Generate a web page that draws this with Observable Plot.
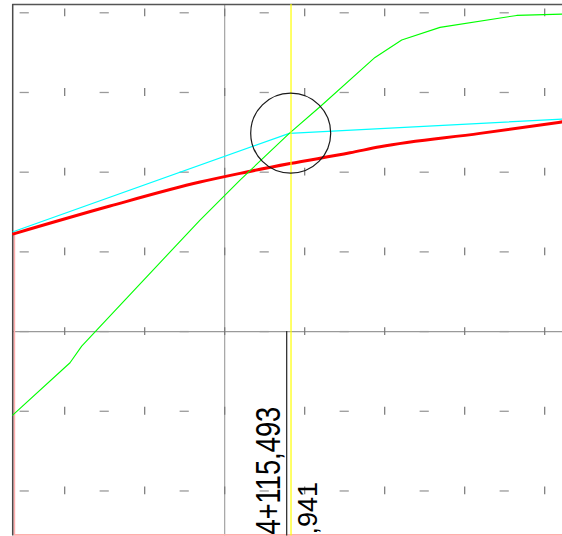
<!DOCTYPE html>
<html>
<head>
<meta charset="utf-8">
<script src="https://cdn.jsdelivr.net/npm/d3@7"></script>
<script src="https://cdn.jsdelivr.net/npm/@observablehq/plot@0.6"></script>
<style>
html, body { margin: 0; padding: 0; background: #fff; overflow: hidden; }
#chart svg { display: block; }
</style>
</head>
<body>
<div id="chart"></div>
<script>
// ---- data (chainage in m, elevation in arbitrary m units) ----
const chainageDomain = [4047, 4184.45];
const elevationDomain = [97.435, 104.104];
const dashColumns = [4050, 4070, 4090, 4110, 4130, 4150, 4170];
const tickColumns = [4060, 4080, 4100, 4120, 4140, 4160, 4180];
const gridRows = [98, 99, 100, 101, 102, 103, 104];
const axisChainage = 4100;
const axisElevation = 100;
const station = 4115.493;
const stationLabel = "4+115,493";
const elevationLabel = ",941";
const intersectionChainage = 4116.58;
const circleChainage = 4116.5;
const circleElevation = 102.49;

const cyanX = [4047.1, 4116.15, 4184.45];
const cyanY = [101.252, 102.487, 102.666];

const redX = [4047.2, 4071.33, 4093.83, 4103.83, 4116.33, 4131.33, 4138.83, 4163.83, 4184.45];
const redY = [101.226, 101.575, 101.876, 101.985, 102.108, 102.243, 102.319, 102.487, 102.632];

const greenX = [4047.0, 4061.33, 4064.25, 4068.0, 4093.83, 4103.83, 4116.15, 4123.83, 4137.58, 4144.25, 4153.83, 4173.0, 4184.45];
const greenY = [98.952, 99.609, 99.818, 100.019, 101.399, 101.901, 102.487, 102.821, 103.440, 103.658, 103.817, 103.967, 103.984];

const groundEdgeX = [4047.4, 4047.4, 4184.45];
const groundEdgeY = [101.226, 97.45, 97.45];

// ---- build ----
const W = 562, H = 536;
const mL = 12.2, mR = 0, mT = 4, mB = 0.5;
const pxPerX = (W - mL - mR) / (chainageDomain[1] - chainageDomain[0]);
const pxPerY = (H - mT - mB) / (elevationDomain[1] - elevationDomain[0]);
const dashHalf = 4.6 / pxPerX;
const tickHalf = 3.9 / pxPerY;
const FONT = "'Liberation Sans', Arial, sans-serif";

const pts = (xs, ys) => xs.map((x, i) => ({x, y: ys[i]}));
const dashes = gridRows.flatMap(y => dashColumns.map(x => ({x, y})));
const ticks = gridRows.flatMap(y => tickColumns.map(x => ({x, y})));

const plot = Plot.plot({
  width: W, height: H,
  marginLeft: mL, marginRight: mR, marginTop: mT, marginBottom: mB,
  x: {domain: chainageDomain, axis: null},
  y: {domain: elevationDomain, axis: null},
  style: {background: "#fff", fontFamily: FONT},
  marks: [
    // grid reference lines
    Plot.ruleX([axisChainage], {stroke: "#9a9a9a", strokeWidth: 1.1}),
    Plot.ruleY([axisElevation], {stroke: "#9a9a9a", strokeWidth: 1.1}),
    // grid markers
    Plot.ruleY(dashes, {y: "y", x1: d => d.x - dashHalf, x2: d => d.x + dashHalf, stroke: "#9a9a9a", strokeWidth: 1.3}),
    Plot.ruleX(ticks, {x: "x", y1: d => d.y - tickHalf, y2: d => d.y + tickHalf, stroke: "#777", strokeWidth: 1.2}),
    // frame
    Plot.ruleY([elevationDomain[1]], {stroke: "#555", strokeWidth: 1.4}),
    Plot.line(pts(groundEdgeX, groundEdgeY), {x: "x", y: "y", stroke: "#ffadad", strokeWidth: 1.8}),
    Plot.ruleX([chainageDomain[0]], {stroke: "#4a4a4a", strokeWidth: 1.5}),
    // station line
    Plot.ruleX([station], {y1: axisElevation, y2: elevationDomain[0], stroke: "#333", strokeWidth: 1.3}),
    // profiles
    Plot.line(pts(cyanX, cyanY), {x: "x", y: "y", stroke: "#00ffff", strokeWidth: 1.2}),
    Plot.line(pts(redX, redY), {x: "x", y: "y", stroke: "#ff0000", strokeWidth: 3, curve: "monotone-x"}),
    Plot.line(pts(greenX, greenY), {x: "x", y: "y", stroke: "#00ff00", strokeWidth: 1.1}),
    // intersection marker
    Plot.ruleX([intersectionChainage], {stroke: "#ffff00", strokeWidth: 1.2}),
    Plot.dot([0], {x: () => circleChainage, y: () => circleElevation, r: 40, stroke: "#1a1a1a", strokeWidth: 1.2, fill: "none"}),
    // labels
    Plot.text([stationLabel], {x: () => station, y: () => elevationDomain[0], text: d => d, rotate: -90, textAnchor: "start", lineAnchor: "bottom", dx: -6.5, dy: -1.5, fontSize: 35, fill: "#000", fontFamily: FONT}),
    Plot.text([elevationLabel], {x: () => station, y: () => elevationDomain[0], text: d => d, rotate: -90, textAnchor: "end", lineAnchor: "bottom", dx: 30, dy: -54, fontSize: 27, fill: "#000", fontFamily: FONT})
  ]
});

plot.querySelectorAll("text").forEach(t => {
  if (t.textContent === stationLabel) {
    t.setAttribute("transform", (t.getAttribute("transform") || "") + " scale(0.78,1)");
  }
});

document.getElementById("chart").appendChild(plot);
</script>
</body>
</html>
